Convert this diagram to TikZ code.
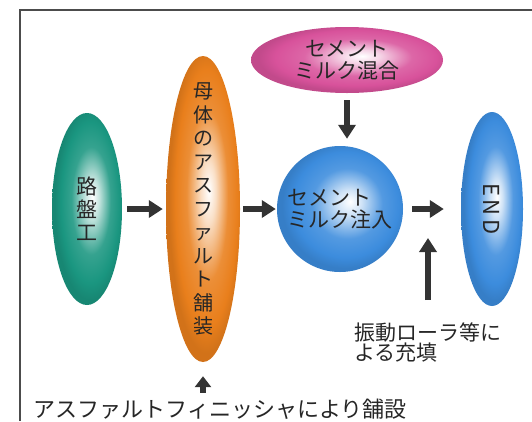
\documentclass[tikz,border=0pt]{standalone}
\usepackage{fontspec}
\setmainfont{Noto Sans CJK JP}
\usetikzlibrary{shapes.geometric,arrows.meta,positioning}

\definecolor{roadgreen}{HTML}{1A9680}
\definecolor{asorange}{HTML}{E97F1C}
\definecolor{milkpink}{HTML}{D8529B}
\definecolor{milkblue}{HTML}{3C8CDD}
\definecolor{arrowgray}{HTML}{333333}

% radial glow, colour is set per node
\pgfdeclareradialshading[glowcol]{glow}{\pgfpoint{4bp}{3bp}}{%
  color(0bp)=(white); color(5bp)=(glowcol!25!white);
  color(14bp)=(glowcol!88!white); color(21bp)=(glowcol);
  color(25bp)=(glowcol!90!black); color(50bp)=(glowcol!90!black)}

\tikzset{
  bubble/.style={ellipse, inner sep=0pt, shade, shading=glow,
    /utils/exec={\colorlet{glowcol}{#1}}, text=black!85, align=center,
    font=\fontsize{21}{24}\selectfont},
  flow/.style={line width=6pt, draw=arrowgray,
    -{Triangle[width=17pt,length=14pt]}},
  frame/.style={line width=1.5pt, draw=black!70},
  note/.style={inner sep=0pt, text=black!85, align=left}
}

\begin{document}
\begin{tikzpicture}[x=1pt,y=-1pt]
  \useasboundingbox (0,0) rectangle (532,421);
  \draw[frame] (20,421) -- (20,10) -- (532,10);

  % process steps
  \node[bubble=roadgreen, minimum width=70pt, minimum height=192pt] (road) at (87,209)
    {路\\[-1pt]盤\\[-1pt]工};
  \node[bubble=asorange, minimum width=74pt, minimum height=306pt, inner ysep=-40pt,
    font=\fontsize{20}{23.5}\selectfont] (base) at (203,209)
    {母\\体\\の\\ア\\ス\\フ\\ァ\\ル\\ト\\舗\\装};
  \node[bubble=milkpink, minimum width=192pt, minimum height=66pt,
    font=\fontsize{21}{22}\selectfont] (mix) at (347,60) {セメント\\ミルク混合};
  \node[bubble=milkblue, circle, minimum size=126pt, inner sep=-8pt, align=left,
    font=\fontsize{21}{22}\selectfont] (inject) at (340,209) {セメント\\ミルク注入};
  \node[bubble=milkblue, minimum width=62pt, minimum height=194pt,
    font=\fontsize{22}{24}\selectfont] (finish) at (492,209)
    {\rotatebox{-90}{E\kern4pt N\kern4pt D}};

  % notes
  \node[note, font=\fontsize{21}{20}\selectfont] (roller) at (428,342)
    {振動ローラ等に\\よる充填};
  \node[note, font=\fontsize{22}{24}\selectfont] (finisher) at (220,409)
    {アスファルトフィニッシャにより舗設};
  \coordinate (rollpt) at (428,238);

  % arrows
  \draw[flow, shorten <=5pt, shorten >=3pt] (road.east) -- (base.west);
  \draw[flow, shorten <=3pt, shorten >=1pt] (base.east) -- (inject.west);
  \draw[flow, shorten <=9pt, shorten >=17pt] (inject.east) -- (finish.west);
  \draw[flow, shorten <=7pt, shorten >=7pt] (mix.south) -- (mix.south |- inject.north);
  \draw[flow, shorten <=22pt] (roller.north) -- (rollpt);
  \draw[flow, -{Triangle[width=16pt,length=11pt]}, shorten <=6pt, shorten >=14pt]
    (base.south |- finisher.north) -- (base.south);
\end{tikzpicture}
\end{document}
